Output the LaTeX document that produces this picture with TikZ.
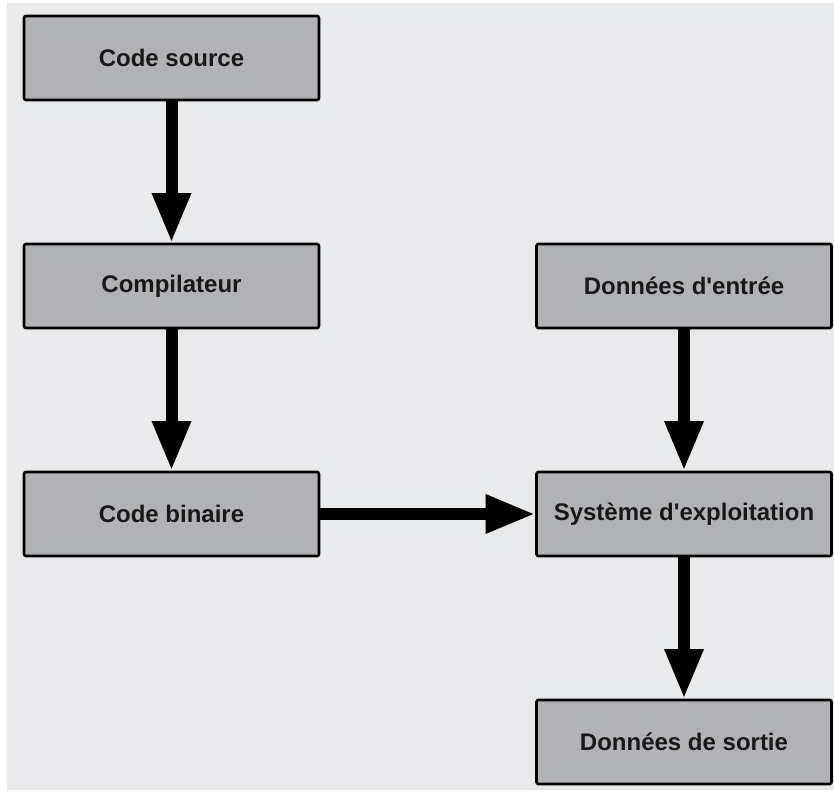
\documentclass[tikz,border=0pt]{standalone}
\usepackage{fontspec}
\setmainfont{Liberation Sans}
\usetikzlibrary{arrows.meta}
\definecolor{bg}{HTML}{E9EAEC}
\definecolor{boxfill}{HTML}{B0B2B5}
\begin{document}
\begin{tikzpicture}[x=1pt,y=-1pt,
  box/.style={draw=black, line width=2.6pt, fill=boxfill, rounded corners=2pt,
    minimum width=295pt, minimum height=84pt, inner sep=0pt, outer sep=0pt,
    font=\fontsize{24}{28}\selectfont\bfseries, text=black!90},
  flow/.style={line width=12pt, -{Triangle[width=36pt,length=50pt]}, shorten >=1pt}]
\useasboundingbox (0,0) rectangle (834,792);
\fill[white] (0,0) rectangle (834,792);
\fill[bg] (7,3) rectangle (834,790);
\node[box] (src) at (171.5,58) {Code source};
\node[box] (comp) at (171.5,286) {Compilateur};
\node[box] (bin) at (171.5,514) {Code binaire};
\node[box] (in) at (684,286) {Données d\textquotesingle entrée};
\node[box] (os) at (684,514) {Système d\textquotesingle exploitation};
\node[box] (out) at (684,742) {Données de sortie};
\draw[flow] (src) -- (comp);
\draw[flow] (comp) -- (bin);
\draw[flow] (bin) -- (os);
\draw[flow] (in) -- (os);
\draw[flow] (os) -- (out);
\end{tikzpicture}
\end{document}
